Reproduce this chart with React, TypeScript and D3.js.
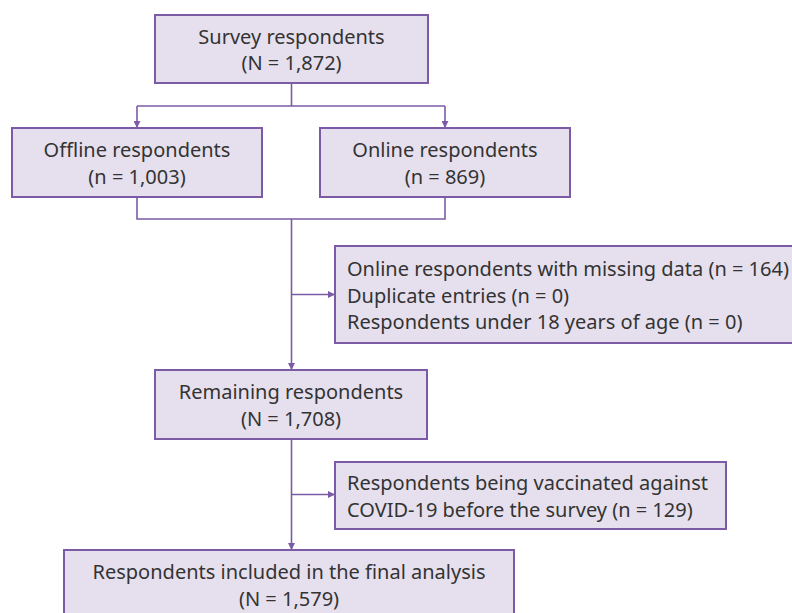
import React, { useEffect, useRef } from "react";
import * as d3 from "d3";

// node text
const nodeIds = ["survey", "offline", "online", "excluded1", "remaining", "excluded2", "final"];
const nodeTitles = [
  ["Survey respondents"],
  ["Offline respondents"],
  ["Online respondents"],
  ["Online respondents with missing data", "Duplicate entries", "Respondents under 18 years of age"],
  ["Remaining respondents"],
  ["Respondents being vaccinated against", "COVID-19 before the survey"],
  ["Respondents included in the final analysis"],
];
const nodeSymbols = ["N", "n", "n", "n", "N", "n", "N"];
const nodeCounts = [[1872], [1003], [869], [164, 0, 0], [1708], [129], [1579]];

const W = 792;
const H = 613;
const FILL = "#e6e0ee";
const STROKE = "#7c5ba6";
const TEXT = "#333333";
const FONT = "'Noto Sans', sans-serif";
const FS = 20;
const LH = 26.5;

// layout of the boxes (x0, y0, x1, y1) and how the text sits inside
const layout: Record<string, { x0: number; y0: number; x1: number; y1: number; align: "center" | "left" }> = {
  survey: { x0: 155, y0: 15, x1: 428, y1: 83, align: "center" },
  offline: { x0: 12, y0: 128, x1: 262, y1: 197, align: "center" },
  online: { x0: 320, y0: 128, x1: 570, y1: 197, align: "center" },
  excluded1: { x0: 335, y0: 246, x1: 800, y1: 343, align: "left" },
  remaining: { x0: 155, y0: 370, x1: 427, y1: 439, align: "center" },
  excluded2: { x0: 335, y0: 462, x1: 726, y1: 529, align: "left" },
  final: { x0: 64, y0: 550, x1: 514, y1: 619, align: "center" },
};

const fmt = d3.format(",");

function nodeLines(i: number): string[] {
  const titles = nodeTitles[i];
  const counts = nodeCounts[i];
  const sym = nodeSymbols[i];
  if (nodeIds[i] === "excluded2") {
    return [titles[0], `${titles[1]} (${sym} = ${fmt(counts[0])})`];
  }
  if (titles.length === 1) {
    return [titles[0], `(${sym} = ${fmt(counts[0])})`];
  }
  return titles.map((t, k) => `${t} (${sym} = ${fmt(counts[k])})`);
}

export default function App() {
  const ref = useRef<SVGSVGElement>(null);

  useEffect(() => {
    const svg = d3.select(ref.current);
    svg.selectAll("*").remove();

    svg.append("defs")
      .append("marker")
      .attr("id", "arrow")
      .attr("viewBox", "0 0 10 10")
      .attr("refX", 10)
      .attr("refY", 5)
      .attr("markerWidth", 8)
      .attr("markerHeight", 7)
      .attr("markerUnits", "userSpaceOnUse")
      .attr("orient", "auto")
      .append("path")
      .attr("d", "M0,0 L10,5 L0,10 z")
      .attr("fill", STROKE);

    svg.append("rect").attr("width", W).attr("height", H).attr("fill", "#ffffff");

    const L = layout;
    const cx = (L.survey.x0 + L.survey.x1) / 2;
    const offX = (L.offline.x0 + L.offline.x1) / 2;
    const onX = (L.online.x0 + L.online.x1) / 2;
    const splitY = 106;
    const joinY = 219;
    const arr1Y = (L.excluded1.y0 + L.excluded1.y1) / 2;
    const arr2Y = (L.excluded2.y0 + L.excluded2.y1) / 2 - 1;

    const links = svg.append("g")
      .attr("fill", "none")
      .attr("stroke", STROKE)
      .attr("stroke-width", 1.6);

    const line = d3.line<[number, number]>();

    // split
    links.append("path").attr("d", line([[cx, L.survey.y1], [cx, splitY]]));
    links.append("path").attr("d", line([[offX, splitY], [onX, splitY]]));
    links.append("path").attr("d", line([[offX, splitY], [offX, L.offline.y0]])).attr("marker-end", "url(#arrow)");
    links.append("path").attr("d", line([[onX, splitY], [onX, L.online.y0]])).attr("marker-end", "url(#arrow)");
    // join
    links.append("path").attr("d", line([[offX, L.offline.y1], [offX, joinY], [onX, joinY], [onX, L.online.y1]]));
    links.append("path").attr("d", line([[cx, joinY], [cx, L.remaining.y0]])).attr("marker-end", "url(#arrow)");
    links.append("path").attr("d", line([[cx, arr1Y], [L.excluded1.x0, arr1Y]])).attr("marker-end", "url(#arrow)");
    // lower
    links.append("path").attr("d", line([[cx, L.remaining.y1], [cx, L.final.y0]])).attr("marker-end", "url(#arrow)");
    links.append("path").attr("d", line([[cx, arr2Y], [L.excluded2.x0, arr2Y]])).attr("marker-end", "url(#arrow)");

    const nodes = svg.append("g")
      .selectAll("g")
      .data(nodeIds)
      .join("g");

    nodes.append("rect")
      .attr("x", d => L[d].x0)
      .attr("y", d => L[d].y0)
      .attr("width", d => L[d].x1 - L[d].x0)
      .attr("height", d => L[d].y1 - L[d].y0)
      .attr("fill", FILL)
      .attr("stroke", STROKE)
      .attr("stroke-width", 2);

    nodes.each(function (d, i) {
      const box = L[d];
      const lines = nodeLines(i);
      const midY = (box.y0 + box.y1) / 2 + 1;
      const startY = midY - ((lines.length - 1) * LH) / 2;
      const tx = box.align === "center" ? (box.x0 + box.x1) / 2 : box.x0 + 12;
      d3.select(this)
        .selectAll("text")
        .data(lines)
        .join("text")
        .attr("x", tx)
        .attr("y", (_, k) => startY + k * LH)
        .attr("dy", "0.35em")
        .attr("text-anchor", box.align === "center" ? "middle" : "start")
        .attr("font-family", FONT)
        .attr("font-size", FS)
        .attr("fill", TEXT)
        .text(t => t);
    });
  }, []);

  return (
    <svg ref={ref} width={W} height={H} style={{ position: "absolute", left: 0, top: 0, display: "block" }} />
  );
}
